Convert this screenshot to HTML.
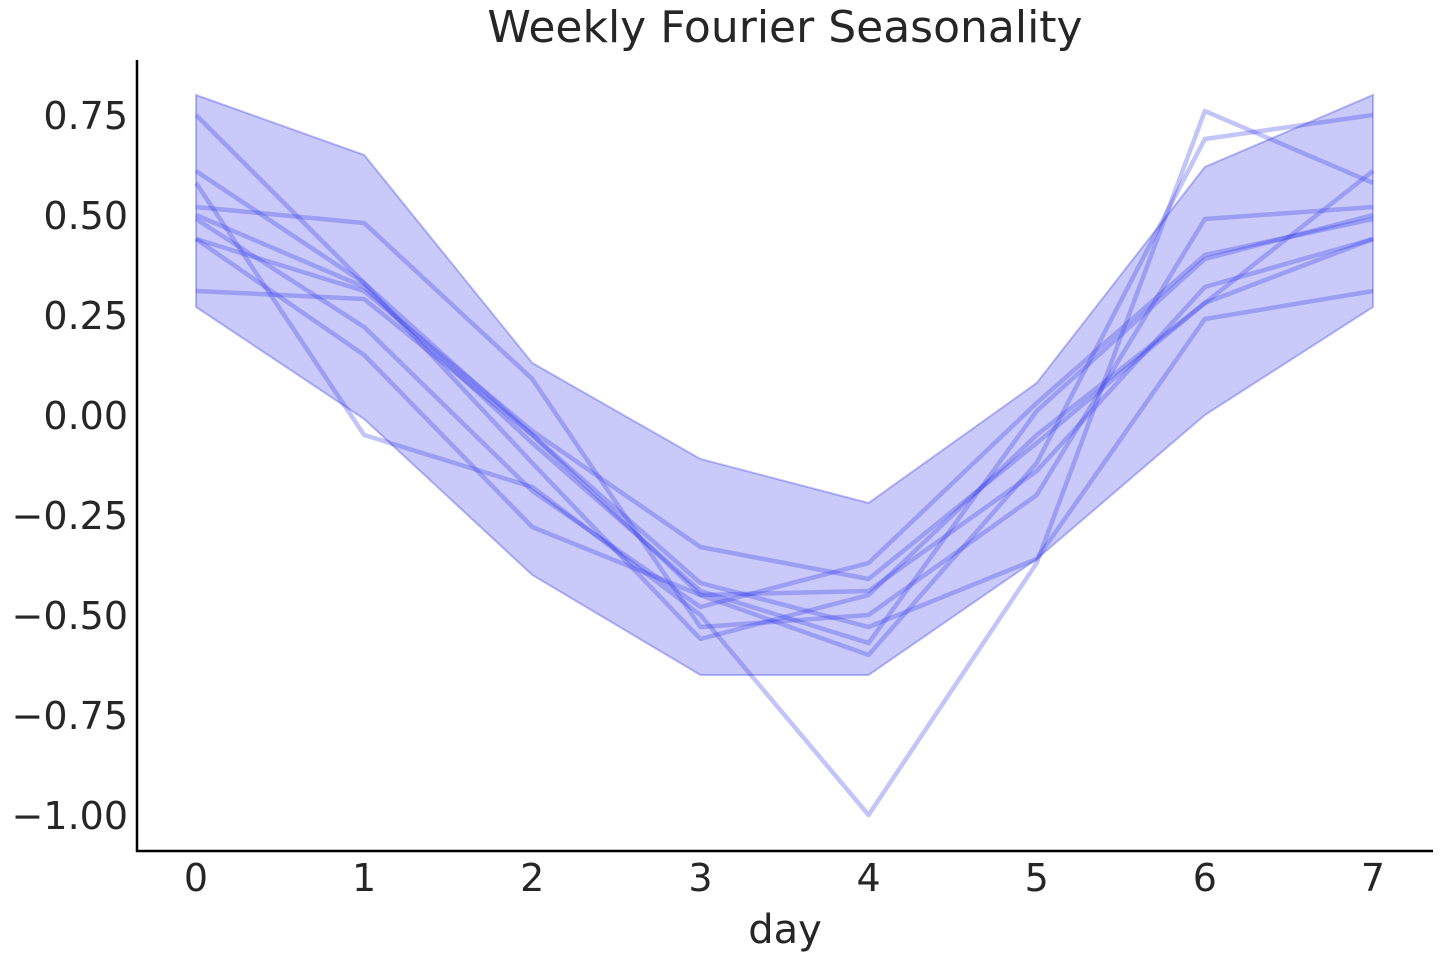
<!DOCTYPE html>
<html><head><meta charset="utf-8"><style>
body{margin:0;background:#fff;}
svg text{font-family:"DejaVu Sans","Liberation Sans",sans-serif;fill:#262626;}
</style></head><body>
<svg id="s" width="1440" height="960" xmlns="http://www.w3.org/2000/svg">
<text x="785" y="42" font-size="44" text-anchor="middle">Weekly Fourier Seasonality</text>
<g id="plot"></g>
<line x1="137" y1="60" x2="137" y2="852" stroke="#000" stroke-width="2.5"/>
<line x1="136" y1="851" x2="1433" y2="851" stroke="#000" stroke-width="2.5"/>
<g font-size="38" text-anchor="end">
<text x="128" y="129">0.75</text>
<text x="128" y="229">0.50</text>
<text x="128" y="329">0.25</text>
<text x="128" y="429">0.00</text>
<text x="128" y="529">−0.25</text>
<text x="128" y="629">−0.50</text>
<text x="128" y="729">−0.75</text>
<text x="128" y="829">−1.00</text>
</g>
<g font-size="38" text-anchor="middle" id="xt"></g>
<text x="785" y="943" font-size="40" text-anchor="middle">day</text>
</svg>
<script>
var X=function(d){return 196+d*168.14}, Y=function(v){return 415-v*400};
var up=[0.80,0.65,0.13,-0.11,-0.22,0.08,0.62,0.80], lo=[0.27,-0.01,-0.40,-0.65,-0.65,-0.36,0.00,0.27];
var p="";for(var i=0;i<8;i++)p+=(i?"L":"M")+X(i)+","+Y(up[i]);
for(var i=7;i>=0;i--)p+="L"+X(i)+","+Y(lo[i]);
var g=document.getElementById("plot");
var h='<path d="'+p+'Z" fill="rgba(30,35,230,0.24)" stroke="rgba(30,35,230,0.3)" stroke-width="2"/>';
var L=[
[0.58,-0.05,-0.18,-0.50,-1.00,-0.37,0.76,0.58],
[0.75,0.33,-0.05,-0.45,-0.60,-0.12,0.69,0.75],
[0.61,0.33,-0.12,-0.56,-0.45,-0.05,0.28,0.61],
[0.52,0.48,0.09,-0.53,-0.50,-0.20,0.49,0.52],
[0.49,0.22,-0.19,-0.48,-0.37,0.03,0.40,0.49],
[0.44,0.15,-0.28,-0.45,-0.44,-0.14,0.32,0.44],
[0.31,0.29,-0.05,-0.42,-0.53,-0.36,0.24,0.31],
[0.50,0.32,-0.07,-0.44,-0.57,0.01,0.39,0.50],
[0.44,0.31,-0.04,-0.33,-0.41,-0.07,0.28,0.44]];
L.forEach(function(a){var d="";a.forEach(function(v,i){d+=(i?"L":"M")+X(i)+","+Y(v)});
h+='<path d="'+d+'" fill="none" stroke="rgba(40,45,235,0.28)" stroke-width="4.5" stroke-linejoin="round"/>';});
g.innerHTML=h;
var t="";for(var i=0;i<8;i++)t+='<text x="'+X(i)+'" y="891">'+i+'</text>';
document.getElementById("xt").innerHTML=t;
</script>
</body></html>
